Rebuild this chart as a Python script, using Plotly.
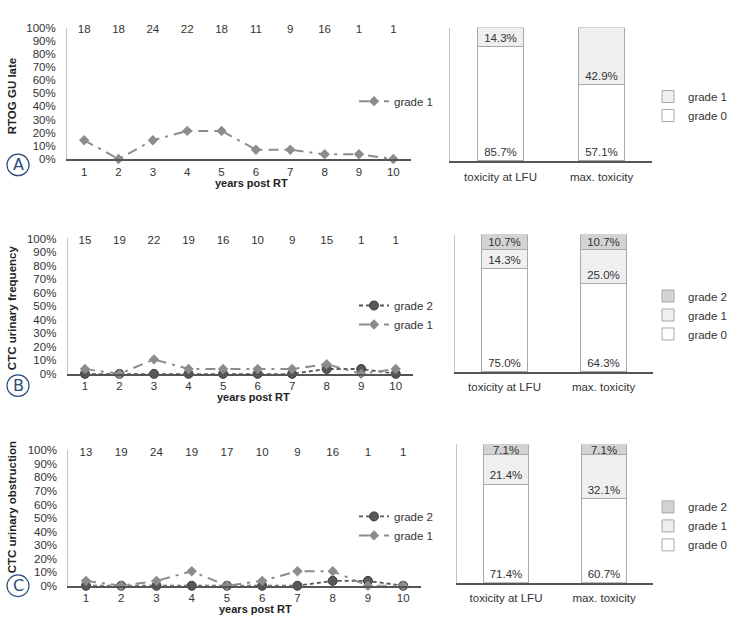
import plotly.graph_objects as go

# ---------------- data ----------------
years = [1, 2, 3, 4, 5, 6, 7, 8, 9, 10]

a_counts = [18, 18, 24, 22, 18, 11, 9, 16, 1, 1]
a_grade1 = [14.3, 0, 14.3, 21.4, 21.4, 7.1, 7.1, 3.6, 3.6, 0]

b_counts = [15, 19, 22, 19, 16, 10, 9, 15, 1, 1]
b_grade2 = [0, 0, 0, 0, 0, 0, 0, 3.6, 3.6, 0]
b_grade1 = [3.6, 0, 10.7, 3.6, 3.6, 3.6, 3.6, 7.1, 0, 3.6]

c_counts = [13, 19, 24, 19, 17, 10, 9, 16, 1, 1]
c_grade2 = [0, 0, 0, 0, 0, 0, 0, 3.6, 3.6, 0]
c_grade1 = [3.6, 0, 3.6, 10.7, 0, 3.6, 10.7, 10.7, 0, 0]

bar_cats = ["toxicity at LFU", "max. toxicity"]
a_bar_g0 = [85.7, 57.1]
a_bar_g1 = [14.3, 42.9]
b_bar_g0 = [75.0, 64.3]
b_bar_g1 = [14.3, 25.0]
b_bar_g2 = [10.7, 10.7]
c_bar_g0 = [71.4, 60.7]
c_bar_g1 = [21.4, 32.1]
c_bar_g2 = [7.1, 7.1]

y_titles = ["RTOG GU late", "CTC urinary frequency", "CTC urinary obstruction"]
panel_letters = ["A", "B", "C"]
x_title = "years post RT"

# ---------------- layout helpers ----------------
W, H = 735, 630
FONT = "Liberation Sans, Arial, sans-serif"
def fx(p):
    return p / W
def fy(p):
    return 1 - p / H

G1_COLOR = "#8c8c8c"
G2_COLOR = "#575757"
BAR_COLORS = {"grade 0": "#ffffff", "grade 1": "#efefef", "grade 2": "#d3d3d3"}
BAR_TEXT_ANCHOR = {"grade 0": "start", "grade 1": "start", "grade 2": "middle"}
COUNT_Y = 98
bar_pos = list(range(len(bar_cats)))

fig = go.Figure()

panels = [
    dict(line=(67, 410.5, 22, 156), bar=(450, 652, 22, 158), lleg=(354, 97), bleg=(648, 102),
         ytitle_y=92, letter=(18, 162), xtitle=(251, 180)),
    dict(line=(67.7, 413, 237, 375), bar=(455, 653, 233, 373), lleg=(354, 315), bleg=(648, 315),
         ytitle_y=308, letter=(18, 387), xtitle=(253, 399)),
    dict(line=(68.4, 420.8, 453, 591), bar=(457, 653, 447, 588), lleg=(354, 530), bleg=(648, 530),
         ytitle_y=511, letter=(18, 591), xtitle=(255, 615)),
]

line_data = [
    (a_counts, None, a_grade1),
    (b_counts, b_grade2, b_grade1),
    (c_counts, c_grade2, c_grade1),
]
bar_data = [
    (a_bar_g0, a_bar_g1, None),
    (b_bar_g0, b_bar_g1, b_bar_g2),
    (c_bar_g0, c_bar_g1, c_bar_g2),
]

layout = dict(
    width=W, height=H, margin=dict(l=0, r=0, t=0, b=0),
    paper_bgcolor="white", plot_bgcolor="rgba(0,0,0,0)",
    font=dict(family=FONT, size=11, color="#333333"),
    barmode="stack", showlegend=True,
)
annotations = []
shapes = []

for i, p in enumerate(panels):
    li = 2 * i + 1
    bi = 2 * i + 2
    lx = "x" if li == 1 else f"x{li}"
    ly = "y" if li == 1 else f"y{li}"
    bx = f"x{bi}"
    by = f"y{bi}"
    lleg = "legend" if li == 1 else f"legend{li}"
    bleg = f"legend{bi}"

    counts, g2, g1 = line_data[i]
    fig.add_trace(go.Scatter(x=years, y=[COUNT_Y] * len(years), text=[str(c) for c in counts],
                             mode="text", textfont=dict(size=11.5, color="#333"),
                             showlegend=False, cliponaxis=False, xaxis=lx, yaxis=ly, hoverinfo="skip"))
    if g2 is not None:
        fig.add_trace(go.Scatter(x=years, y=g2, name="grade 2", mode="lines+markers",
                                 line=dict(color=G2_COLOR, width=1.8, dash="4px,3px"),
                                 marker=dict(symbol="circle", size=9, color=G2_COLOR,
                                             line=dict(color="#3a3a3a", width=1)),
                                 cliponaxis=False, xaxis=lx, yaxis=ly, legend=lleg))
    fig.add_trace(go.Scatter(x=years, y=g1, name="grade 1", mode="lines+markers",
                             line=dict(color=G1_COLOR, width=2, dash="10px,6px,3px,6px"),
                             marker=dict(symbol="diamond", size=8, color=G1_COLOR),
                             cliponaxis=False, xaxis=lx, yaxis=ly, legend=lleg))

    b0, b1, b2 = bar_data[i]
    for name, vals in (("grade 0", b0), ("grade 1", b1), ("grade 2", b2)):
        if vals is None:
            continue
        fig.add_trace(go.Bar(x=bar_pos, y=vals, name=name, width=0.46,
                             marker=dict(color=BAR_COLORS[name], line=dict(color="#a8a8a8", width=1)),
                             text=[f"{v:.1f}%" for v in vals], textposition="inside",
                             insidetextanchor=BAR_TEXT_ANCHOR[name], constraintext="none", textangle=0,
                             textfont=dict(size=11.5, color="#333"), cliponaxis=False,
                             xaxis=bx, yaxis=by, legend=bleg))

    x0, x1, yt, yb = p["line"]
    layout["xaxis" if li == 1 else f"xaxis{li}"] = dict(
        domain=[fx(x0), fx(x1)], anchor=ly, range=[0.5, 10.5], tickvals=years,
        showline=True, linecolor="#555555", linewidth=1.5, showgrid=False, zeroline=False,
        ticks="", ticklabelstandoff=1, tickfont=dict(size=11.5, color="#333"))
    layout["yaxis" if li == 1 else f"yaxis{li}"] = dict(
        domain=[fy(yb), fy(yt)], anchor=lx, range=[0, 100], dtick=10, ticksuffix="%",
        showline=True, linecolor="#c4c4c4", linewidth=1, showgrid=False, zeroline=False,
        ticks="", ticklabelstandoff=8, tickfont=dict(size=11.5, color="#333"))

    x0, x1, yt, yb = p["bar"]
    layout[f"xaxis{bi}"] = dict(
        domain=[fx(x0), fx(x1)], anchor=by, range=[-0.5, len(bar_cats) - 0.5],
        tickvals=bar_pos, ticktext=bar_cats,
        showline=True, linecolor="#555555", linewidth=1.5, showgrid=False, zeroline=False,
        ticks="", ticklabelstandoff=4, tickfont=dict(size=11.5, color="#333"))
    layout[f"yaxis{bi}"] = dict(
        domain=[fy(yb), fy(yt)], anchor=bx, range=[0, 100], showticklabels=False,
        showline=True, linecolor="#c4c4c4", linewidth=1, showgrid=False, zeroline=False, ticks="")

    lxp, lyp = p["lleg"]
    layout[lleg] = dict(x=fx(lxp), y=fy(lyp), xanchor="left", yanchor="middle",
                        bgcolor="rgba(0,0,0,0)", traceorder="normal", tracegroupgap=0,
                        font=dict(size=11.5, color="#333"))
    bxp, byp = p["bleg"]
    layout[bleg] = dict(x=fx(bxp), y=fy(byp), xanchor="left", yanchor="middle",
                        bgcolor="rgba(0,0,0,0)", traceorder="reversed", tracegroupgap=0,
                        font=dict(size=11.5, color="#333"))

    annotations.append(dict(text=f"<b>{y_titles[i]}</b>", textangle=-90, x=fx(12), y=fy(p["ytitle_y"]),
                            xref="paper", yref="paper", showarrow=False, xanchor="center", yanchor="middle",
                            font=dict(size=11.5, color="#222")))
    tx, ty = p["xtitle"]
    annotations.append(dict(text=f"<b>{x_title}</b>", x=fx(tx), y=fy(ty), xref="paper", yref="paper",
                            showarrow=False, xanchor="center", yanchor="middle",
                            font=dict(size=11, color="#222")))
    cx, cy = p["letter"]
    r = 11
    shapes.append(dict(type="circle", xref="paper", yref="paper",
                       x0=fx(cx - r), x1=fx(cx + r), y0=fy(cy + r), y1=fy(cy - r),
                       line=dict(color="#2e4d7b", width=1.2)))
    annotations.append(dict(text=panel_letters[i], x=fx(cx), y=fy(cy), xref="paper", yref="paper",
                            showarrow=False, xanchor="center", yanchor="middle",
                            font=dict(size=16, color="#2e4d7b", family="DejaVu Sans")))

layout["annotations"] = annotations
layout["shapes"] = shapes
fig.update_layout(**layout)

fig.write_html("out.html", config={"displayModeBar": False},
               post_script="document.body.style.margin='0';")
